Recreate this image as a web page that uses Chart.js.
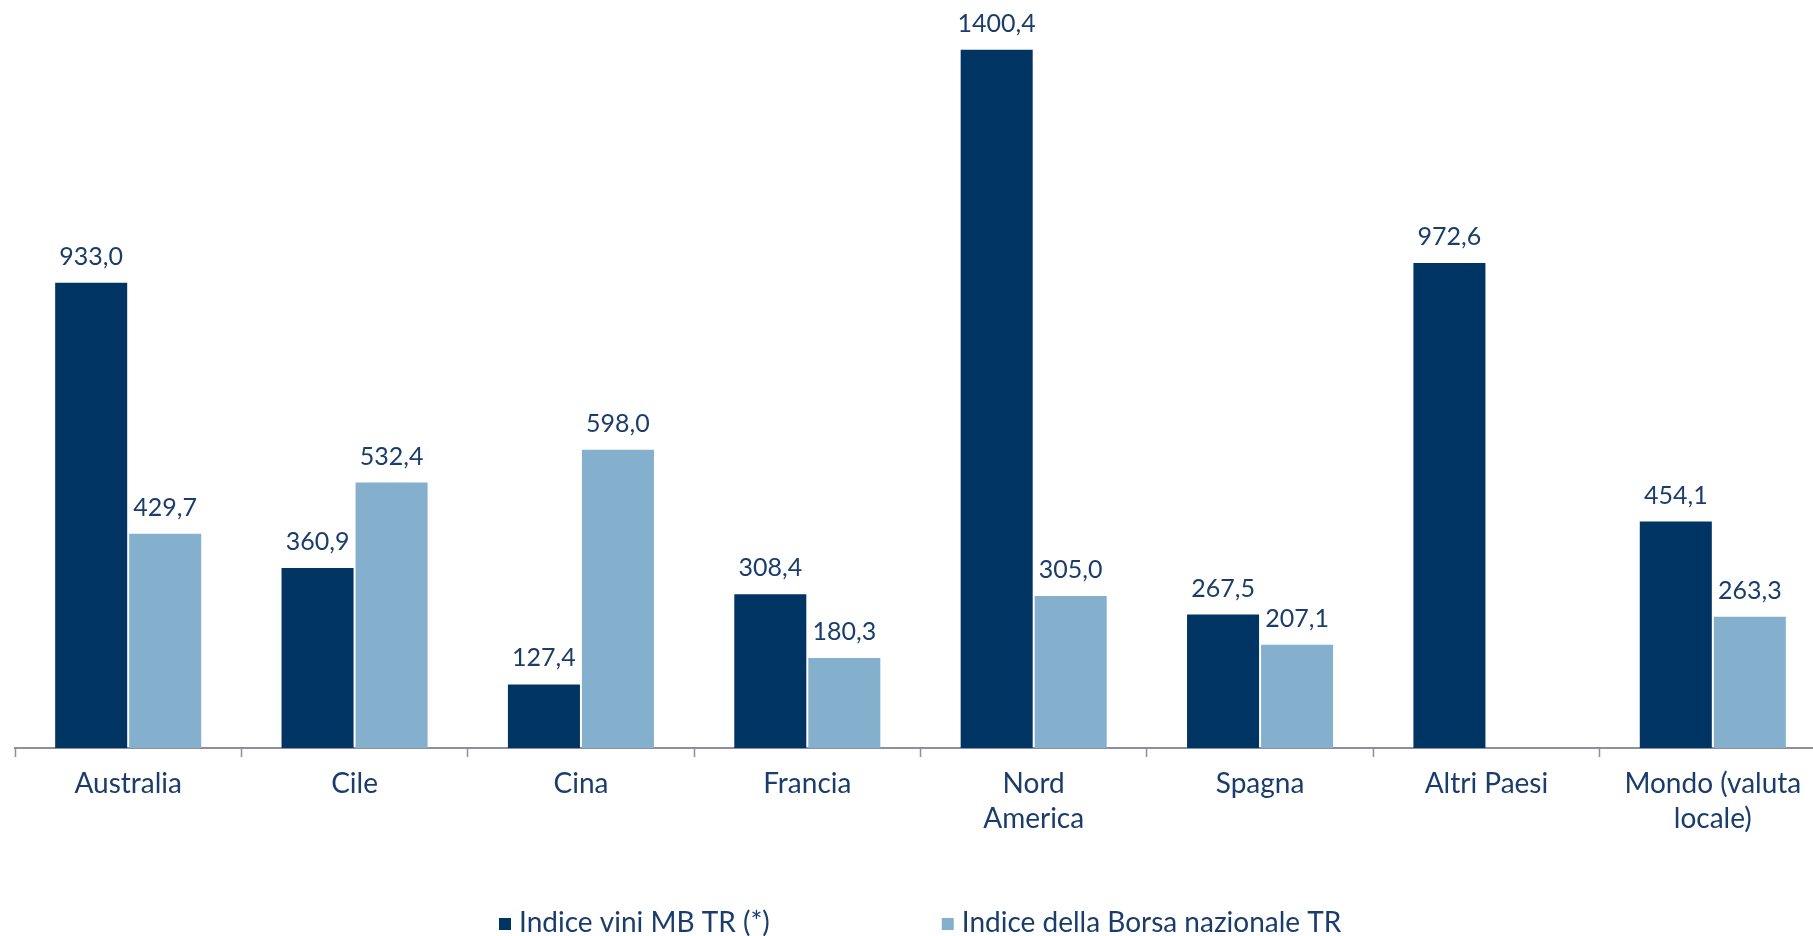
<!DOCTYPE html>
<html>
<head>
<meta charset="utf-8">
<script src="https://cdn.jsdelivr.net/npm/chart.js@4.4.1/dist/chart.umd.min.js"></script>
<style>
  html, body { margin: 0; padding: 0; background: #fff; overflow: hidden; }
  /* the last category runs slightly past the right edge of the window */
  #wrap { width: 1826px; height: 936px; }
</style>
</head>
<body>
<div id="wrap"><canvas id="winesChart"></canvas></div>
<script>
var categories = [
    "Australia", "Cile", "Cina", "Francia",
    ["Nord", "America"], "Spagna", "Altri Paesi", ["Mondo (valuta", "locale)"]
];
var viniValues = [933.0, 360.9, 127.4, 308.4, 1400.4, 267.5, 972.6, 454.1];
var borsaValues = [429.7, 532.4, 598.0, 180.3, 305.0, 207.1, null, 263.3];
var seriesNames = ["Indice vini MB TR (*)", "Indice della Borsa nazionale TR"];

var navy = "#003462";
var lightBlue = "#84b0ce";
var textColor = "#1b3d6b";
var axisGrey = "#8e8f9e";
var fontFamily = "Lato, 'Open Sans', sans-serif";

function fmt(v) {
    return v.toFixed(1).replace(".", ",");
}

// value labels above each bar
var valueLabels = {
    id: "valueLabels",
    afterDatasetsDraw: function (chart) {
        var ctx = chart.ctx;
        ctx.save();
        ctx.font = "25px " + fontFamily;
        ctx.fillStyle = textColor;
        ctx.textAlign = "center";
        ctx.textBaseline = "alphabetic";
        chart.data.datasets.forEach(function (ds, i) {
            chart.getDatasetMeta(i).data.forEach(function (bar, j) {
                var v = ds.data[j];
                if (v === null || v === undefined) return;
                ctx.fillText(fmt(v), bar.x, bar.y - 18);
            });
        });
        ctx.restore();
    }
};

// legend along the bottom edge, partly cut off by the canvas
var bottomLegend = {
    id: "bottomLegend",
    afterDraw: function (chart) {
        var ctx = chart.ctx;
        var x = 499;
        var baseline = 932;
        ctx.save();
        ctx.font = "28px " + fontFamily;
        ctx.textBaseline = "alphabetic";
        chart.data.datasets.forEach(function (ds) {
            ctx.fillStyle = ds.backgroundColor;
            ctx.fillRect(x, 918, 12, 12);
            ctx.fillStyle = textColor;
            ctx.fillText(ds.label, x + 20, baseline);
            x += 20 + ctx.measureText(ds.label).width + 172;
        });
        ctx.restore();
    }
};

var chart = new Chart(document.getElementById("winesChart"), {
    type: "bar",
    data: {
        labels: categories,
        datasets: [
            {
                label: seriesNames[0],
                data: viniValues,
                backgroundColor: navy
            },
            {
                label: seriesNames[1],
                data: borsaValues,
                backgroundColor: lightBlue
            }
        ]
    },
    options: {
        responsive: true,
        maintainAspectRatio: false,
        animation: false,
        categoryPercentage: 0.654,
        barPercentage: 0.973,
        layout: { padding: { left: 15, right: 0, top: 0, bottom: 0 } },
        plugins: {
            legend: { display: false },
            tooltip: { enabled: false }
        },
        scales: {
            x: {
                offset: true,
                afterFit: function (scale) { scale.height = 188; },
                border: { display: true, color: axisGrey, width: 2 },
                grid: {
                    offset: true,
                    drawOnChartArea: false,
                    drawTicks: true,
                    tickLength: 9,
                    tickWidth: 1.5,
                    tickColor: axisGrey
                },
                ticks: {
                    color: textColor,
                    padding: 9,
                    maxRotation: 0,
                    autoSkip: false,
                    font: { family: fontFamily, size: 28, lineHeight: 1.25 }
                }
            },
            y: {
                display: false,
                min: 0,
                max: 1500
            }
        }
    },
    plugins: [valueLabels, bottomLegend]
});
</script>
</body>
</html>
